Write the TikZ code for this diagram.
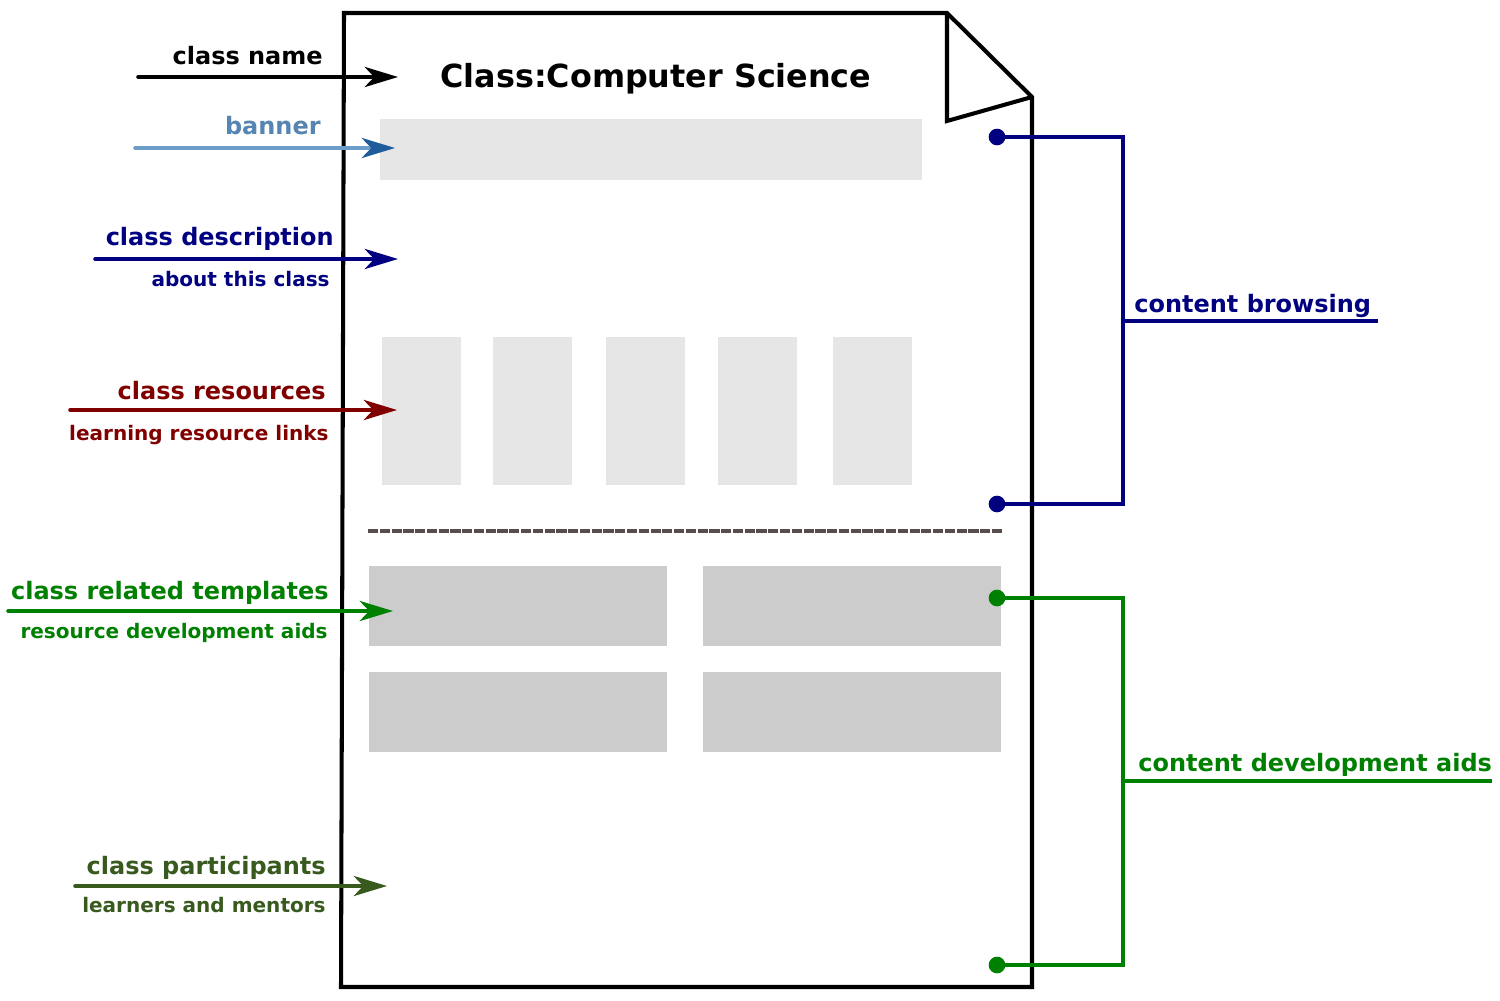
\documentclass[tikz,border=0pt]{standalone}
\usepackage{fontspec}
\setmainfont{DejaVu Sans}
\usetikzlibrary{arrows.meta}
\definecolor{bannertxt}{HTML}{5585B0}
\definecolor{bannerln}{HTML}{6E9CC8}
\definecolor{bannerhd}{HTML}{1F5C9C}
\definecolor{navy}{HTML}{000080}
\definecolor{dred}{HTML}{800000}
\definecolor{dgreen}{HTML}{008000}
\definecolor{olive}{HTML}{385A1E}
\definecolor{sepcol}{HTML}{584D4D}
\definecolor{lgray}{HTML}{E6E6E6}
\definecolor{mgray}{HTML}{CCCCCC}
\tikzset{
  lbl/.style={anchor=base east,inner sep=0pt,font=\fontsize{13.65}{16}\selectfont\bfseries},
  sublbl/.style={anchor=base east,inner sep=0pt,font=\fontsize{11.4}{13}\selectfont\bfseries},
  rlbl/.style={anchor=base west,inner sep=0pt,font=\fontsize{13.65}{16}\selectfont\bfseries},
  pointer/.style={line width=2pt,line cap=round,-{Stealth[length=19pt,width=11.5pt,inset=5.5pt]}},
  bracket/.style={line width=2pt},
  dot/.style={circle,fill,inner sep=0pt,minimum size=9.5pt}
}
\begin{document}
\begin{tikzpicture}[x=0.02cm,y=-0.02cm]
\useasboundingbox (0,0) rectangle (1500,1000);
% page
\draw[line width=2.3pt,line join=miter,fill=white] (344,13) -- (947,13) -- (1032,97) -- (1032,987) -- (341,987) -- cycle;
\draw[line width=2.3pt,line join=miter] (947,13) -- (947,121) -- (1032,97);
% title
\node[anchor=base,inner sep=0pt,font=\fontsize{18.1}{22}\selectfont\bfseries] (title) at (656,88) {Class:Computer Science};
% blocks
\fill[lgray] (380,119) rectangle (922,180);
\foreach \x in {382,493,606,718,833}{
  \fill[lgray] (\x,337) rectangle (\x+79,485);
}
\draw[sepcol,line width=2.4pt,dash pattern=on 5.8pt off 0.9pt] (368,531) -- (1002,531);
\fill[mgray] (369,566) rectangle (667,646);
\fill[mgray] (703,566) rectangle (1001,646);
\fill[mgray] (369,672) rectangle (667,752);
\fill[mgray] (703,672) rectangle (1001,752);
% left labels and arrows
\coordinate (a1s) at (138,77); \coordinate (a1e) at (398,77);
\node[lbl] (l1) at (323,65) {class name};
\draw[pointer] (a1s) -- (a1e);

\coordinate (a2s) at (135,148); \coordinate (a2e) at (395,148);
\node[lbl,text=bannertxt] (l2) at (321,135) {banner};
\draw[pointer,bannerln,-{Stealth[length=19pt,width=11.5pt,inset=5.5pt,color=bannerhd]}] (a2s) -- (a2e);

\coordinate (a3s) at (95,259); \coordinate (a3e) at (398,259);
\node[lbl,text=navy] (l3) at (334,245) {class description};
\node[sublbl,text=navy] (s3) at (330,286) {about this class};
\draw[pointer,navy] (a3s) -- (a3e);

\coordinate (a4s) at (70,410); \coordinate (a4e) at (397,410);
\node[lbl,text=dred] (l4) at (326,399) {class resources};
\node[sublbl,text=dred] (s4) at (329,440) {learning resource links};
\draw[pointer,dred] (a4s) -- (a4e);

\coordinate (a5s) at (8,611); \coordinate (a5e) at (393,611);
\node[lbl,text=dgreen] (l5) at (329,599) {class related templates};
\node[sublbl,text=dgreen] (s5) at (328,638) {resource development aids};
\draw[pointer,dgreen] (a5s) -- (a5e);

\coordinate (a6s) at (75,886); \coordinate (a6e) at (387,886);
\node[lbl,text=olive] (l6) at (326,874) {class participants};
\node[sublbl,text=olive] (s6) at (326,912) {learners and mentors};
\draw[pointer,olive] (a6s) -- (a6e);

% right brackets
\node[dot,navy] (b1) at (997,137) {};
\node[dot,navy] (b2) at (997,504) {};
\coordinate (b3) at (1378,321);
\draw[bracket,navy] (b1.center) -- (1123,137) -- (1123,504) -- (b2.center);
\draw[bracket,navy] (1123,321) -- (b3);
\node[rlbl,text=navy] (rb) at (1134,312) {content browsing};

\node[dot,dgreen] (g1) at (997,598) {};
\node[dot,dgreen] (g2) at (997,965) {};
\coordinate (g3) at (1492,781);
\draw[bracket,dgreen] (g1.center) -- (1123,598) -- (1123,965) -- (g2.center);
\draw[bracket,dgreen] (1123,781) -- (g3);
\node[rlbl,text=dgreen] (rg) at (1138,771) {content development aids};
\end{tikzpicture}
\end{document}
